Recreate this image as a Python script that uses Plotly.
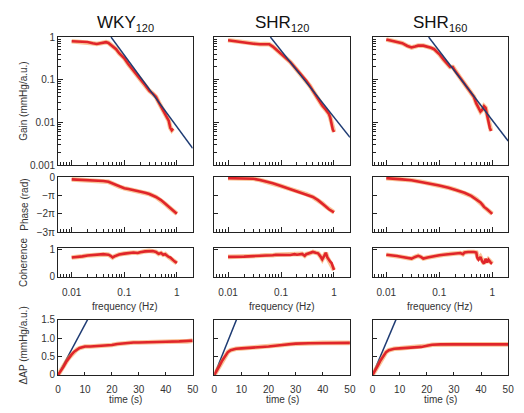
import math
import plotly.graph_objects as go

W, H = 524, 413

col_titles = ["WKY<sub><span style='font-size:11px'>120</span></sub>",
              "SHR<sub><span style='font-size:11px'>120</span></sub>",
              "SHR<sub><span style='font-size:11px'>160</span></sub>"]

# ---------------- Gain (mmHg/a.u.) vs frequency (Hz) ----------------
gain_f_wky = [0.01, 0.013, 0.016, 0.02, 0.025, 0.03, 0.035, 0.04, 0.045, 0.05, 0.055, 0.06, 0.07, 0.08,
              0.1, 0.12, 0.15, 0.2, 0.25, 0.3, 0.35, 0.4, 0.45, 0.5, 0.6, 0.7, 0.75, 0.8, 0.85]
gain_wky = [0.80, 0.79, 0.78, 0.77, 0.72, 0.69, 0.72, 0.75, 0.76, 0.73, 0.66, 0.62, 0.52, 0.42,
            0.32, 0.23, 0.16, 0.105, 0.075, 0.055, 0.047, 0.040, 0.030, 0.024, 0.016, 0.011, 0.0075, 0.0066, 0.0072]

gain_f_shr120 = [0.01, 0.015, 0.02, 0.03, 0.04, 0.05, 0.06, 0.07, 0.08, 0.1, 0.12, 0.15, 0.2, 0.25, 0.3,
                 0.35, 0.4, 0.5, 0.6, 0.7, 0.8, 0.85, 0.9, 0.95, 1.0]
gain_shr120 = [0.84, 0.78, 0.74, 0.70, 0.68, 0.69, 0.68, 0.60, 0.52, 0.42, 0.34, 0.26, 0.17, 0.125, 0.095,
               0.072, 0.055, 0.034, 0.025, 0.02, 0.016, 0.013, 0.009, 0.0068, 0.006]

gain_f_shr160 = [0.01, 0.013, 0.016, 0.02, 0.025, 0.03, 0.035, 0.04, 0.05, 0.06, 0.07, 0.08, 0.09, 0.1,
                 0.12, 0.14, 0.16, 0.18, 0.2, 0.25, 0.3, 0.35, 0.4, 0.45, 0.5, 0.55, 0.6, 0.65, 0.7,
                 0.75, 0.8, 0.85, 0.9, 0.95]
gain_shr160 = [0.88, 0.82, 0.78, 0.72, 0.62, 0.57, 0.60, 0.63, 0.63, 0.60, 0.56, 0.52, 0.46, 0.40,
               0.30, 0.24, 0.20, 0.20, 0.16, 0.11, 0.08, 0.062, 0.05, 0.04, 0.028, 0.022, 0.018, 0.02, 0.024,
               0.022, 0.015, 0.010, 0.0075, 0.0063]

# fitted power-law lines (two end points each)
fit_f_wky = [0.056, 2.0]
fit_g_wky = [1.0, 0.0025]
fit_f_shr120 = [0.063, 2.0]
fit_g_shr120 = [1.0, 0.0045]
fit_f_shr160 = [0.063, 2.0]
fit_g_shr160 = [1.0, 0.0037]

# ---------------- Phase (rad) ----------------
phase_f_wky = [0.01, 0.015, 0.02, 0.03, 0.04, 0.05, 0.06, 0.07, 0.08, 0.1, 0.12, 0.15, 0.2, 0.25, 0.3,
               0.4, 0.5, 0.6, 0.7, 0.8, 0.9, 1.0]
phase_wky = [-0.38, -0.44, -0.53, -0.63, -0.66, -0.79, -1.10, -1.41, -1.63, -1.88, -2.04, -2.20, -2.45,
             -2.67, -2.89, -3.39, -3.93, -4.56, -5.09, -5.50, -5.91, -6.28]

phase_f_shr120 = [0.01, 0.015, 0.02, 0.03, 0.04, 0.05, 0.07, 0.1, 0.15, 0.2, 0.3, 0.4, 0.5, 0.6, 0.7,
                  0.8, 0.9, 1.0]
phase_shr120 = [-0.16, -0.19, -0.22, -0.28, -0.47, -0.69, -1.04, -1.51, -2.04, -2.36, -2.89, -3.39,
                -3.93, -4.46, -5.03, -5.50, -5.81, -6.03]

phase_f_shr160 = [0.01, 0.015, 0.02, 0.03, 0.05, 0.07, 0.1, 0.15, 0.2, 0.3, 0.4, 0.5, 0.6, 0.65, 0.7,
                  0.8, 0.9, 1.0]
phase_shr160 = [-0.16, -0.25, -0.38, -0.53, -0.85, -1.10, -1.41, -1.82, -2.14, -2.67, -3.20, -3.77,
                -4.34, -4.71, -5.09, -5.50, -5.91, -6.28]

# ---------------- Coherence ----------------
coh_f_wky = [0.01, 0.013, 0.016, 0.02, 0.025, 0.03, 0.035, 0.04, 0.045, 0.05, 0.055, 0.06, 0.065, 0.07,
             0.08, 0.1, 0.12, 0.15, 0.18, 0.2, 0.25, 0.3, 0.35, 0.4, 0.45, 0.5, 0.55, 0.6, 0.65, 0.7,
             0.75, 0.8, 0.85, 0.9, 0.95, 1.0]
coh_wky = [0.70, 0.71, 0.74, 0.77, 0.79, 0.81, 0.81, 0.82, 0.81, 0.80, 0.76, 0.70, 0.74, 0.77,
           0.81, 0.84, 0.86, 0.88, 0.86, 0.89, 0.92, 0.94, 0.93, 0.90, 0.83, 0.86, 0.80, 0.82, 0.76, 0.72,
           0.70, 0.64, 0.60, 0.56, 0.53, 0.50]

coh_f_shr120 = [0.01, 0.015, 0.02, 0.03, 0.04, 0.05, 0.06, 0.07, 0.08, 0.1, 0.12, 0.15, 0.18, 0.2, 0.25,
                0.28, 0.3, 0.35, 0.4, 0.45, 0.5, 0.55, 0.6, 0.65, 0.7, 0.75, 0.8, 0.85, 0.9, 0.95, 1.0]
coh_shr120 = [0.72, 0.72, 0.73, 0.75, 0.76, 0.78, 0.76, 0.78, 0.80, 0.80, 0.81, 0.79, 0.82, 0.80, 0.83,
              0.76, 0.82, 0.85, 0.90, 0.87, 0.85, 0.75, 0.63, 0.75, 0.87, 0.70, 0.60, 0.55, 0.50, 0.38, 0.25]

coh_f_shr160 = [0.01, 0.013, 0.016, 0.02, 0.025, 0.03, 0.035, 0.04, 0.045, 0.05, 0.06, 0.07, 0.08, 0.1,
                0.12, 0.15, 0.2, 0.25, 0.28, 0.3, 0.35, 0.4, 0.45, 0.5, 0.52, 0.55, 0.6, 0.65, 0.7, 0.75,
                0.8, 0.85, 0.9, 0.95, 1.0]
coh_shr160 = [0.80, 0.78, 0.75, 0.72, 0.68, 0.66, 0.72, 0.76, 0.72, 0.66, 0.70, 0.73, 0.75, 0.78,
              0.80, 0.82, 0.83, 0.86, 0.82, 0.88, 0.90, 0.91, 0.90, 0.88, 0.70, 0.62, 0.72, 0.55, 0.48, 0.65,
              0.52, 0.62, 0.55, 0.50, 0.48]

# ---------------- Step response dAP (mmHg/a.u.) vs time (s) ----------------
t_wky = [0, 1, 2, 3, 4, 5, 6, 7, 8, 9, 10, 12, 15, 18, 20, 22, 25, 28, 30, 35, 40, 45, 48, 50]
step_wky = [0, 0.10, 0.22, 0.35, 0.46, 0.55, 0.63, 0.69, 0.73, 0.75, 0.77, 0.77, 0.78, 0.79, 0.81,
            0.84, 0.87, 0.88, 0.88, 0.90, 0.90, 0.91, 0.91, 0.93]

t_shr120 = [0, 1, 2, 3, 4, 5, 6, 7, 8, 10, 15, 20, 25, 28, 30, 35, 40, 45, 50]
step_shr120 = [0, 0.12, 0.26, 0.40, 0.53, 0.62, 0.67, 0.70, 0.71, 0.72, 0.74, 0.77, 0.81, 0.84, 0.85,
               0.86, 0.87, 0.87, 0.87]

t_shr160 = [0, 1, 2, 3, 4, 5, 6, 7, 8, 10, 15, 18, 20, 22, 25, 30, 40, 50]
step_shr160 = [0, 0.12, 0.26, 0.40, 0.53, 0.62, 0.67, 0.70, 0.71, 0.72, 0.74, 0.76, 0.79, 0.82, 0.83,
               0.83, 0.83, 0.83]

slope_t_wky = [0, 12]
slope_v_wky = [0, 1.64]
slope_t_shr120 = [0, 9]
slope_v_shr120 = [0, 1.65]
slope_t_shr160 = [0, 9.5]
slope_v_shr160 = [0, 1.65]

# ---------------- assemble ----------------
gain_sets = [(gain_f_wky, gain_wky, fit_f_wky, fit_g_wky),
             (gain_f_shr120, gain_shr120, fit_f_shr120, fit_g_shr120),
             (gain_f_shr160, gain_shr160, fit_f_shr160, fit_g_shr160)]
phase_sets = [(phase_f_wky, phase_wky), (phase_f_shr120, phase_shr120), (phase_f_shr160, phase_shr160)]
coh_sets = [(coh_f_wky, coh_wky), (coh_f_shr120, coh_shr120), (coh_f_shr160, coh_shr160)]
step_sets = [(t_wky, step_wky, slope_t_wky, slope_v_wky),
             (t_shr120, step_shr120, slope_t_shr120, slope_v_shr120),
             (t_shr160, step_shr160, slope_t_shr160, slope_v_shr160)]

RED = "#e0252a"
HALO = "rgba(245,150,70,0.55)"
BLUE = "#1e3b73"
FONT = "Liberation Sans, Arial, sans-serif"
TICKCOL = "#333333"

col_px = [(56, 193), (215, 353), (376, 514)]
row_px = [(32, 164), (176, 233), (249, 279), (323, 380)]


def xdom(c):
    return [col_px[c][0] / W, col_px[c][1] / W]


def ydom(r):
    return [1 - row_px[r][1] / H, 1 - row_px[r][0] / H]


fig = go.Figure()
layout = {}
minor_vals = [k * 10 ** e for e in (-3, -2, -1, 0) for k in range(2, 10)]

axis_common = dict(showline=True, mirror=True, linecolor="#222222", linewidth=1,
                   showgrid=False, zeroline=False, ticks="inside", tickcolor="#222222",
                   tickfont=dict(family=FONT, size=10, color=TICKCOL))


def add_line(x, y, n, color, width, halo=False):
    if halo:
        fig.add_trace(go.Scatter(x=x, y=y, mode="lines", line=dict(color=HALO, width=width + 2),
                                 xaxis="x%d" % n, yaxis="y%d" % n, showlegend=False, hoverinfo="skip"))
    fig.add_trace(go.Scatter(x=x, y=y, mode="lines", line=dict(color=color, width=width),
                             xaxis="x%d" % n, yaxis="y%d" % n, showlegend=False))


n = 0
for r in range(4):
    for c in range(3):
        n += 1
        xa = dict(axis_common, domain=xdom(c), anchor="y%d" % n)
        ya = dict(axis_common, domain=ydom(r), anchor="x%d" % n)
        if r < 3:
            xa.update(type="log", range=[math.log10(0.0055), math.log10(2.0)],
                      tickmode="array", tickvals=[0.01, 0.1, 1], ticktext=["0.01", "0.1", "1"],
                      ticklen=5, showticklabels=(r == 2), ticklabelstandoff=6,
                      minor=dict(tickmode="array", tickvals=minor_vals, ticks="inside",
                                 ticklen=3, tickcolor="#222222"))
        else:
            xa.update(range=[0, 50], tickmode="array", tickvals=[0, 10, 20, 30, 40, 50],
                      ticklen=3, showticklabels=True, ticklabelstandoff=5)
        if r == 0:
            ya.update(type="log", range=[-3, 0], tickmode="array",
                      tickvals=[0.001, 0.01, 0.1, 1], ticktext=["0.001", "0.01", "0.1", "1"],
                      ticklen=5, showticklabels=(c == 0),
                      minor=dict(tickmode="array", tickvals=minor_vals, ticks="inside",
                                 ticklen=3, tickcolor="#222222"))
            fx, fy, bx, by = gain_sets[c]
            add_line(fx, fy, n, RED, 2.6, halo=True)
            add_line(bx, by, n, BLUE, 1.5)
        elif r == 1:
            ya.update(range=[-3 * math.pi, 0.05], tickmode="array",
                      tickvals=[0, -math.pi, -2 * math.pi, -3 * math.pi],
                      ticktext=["0", "−π", "−2π", "−3π"], ticklen=4, showticklabels=(c == 0))
            fx, fy = phase_sets[c]
            add_line(fx, fy, n, RED, 2.6, halo=True)
        elif r == 2:
            ya.update(range=[0, 1.05], tickmode="array", tickvals=[0, 1], ticktext=["0", "1"],
                      ticklen=4, showticklabels=(c == 0))
            fx, fy = coh_sets[c]
            add_line(fx, fy, n, RED, 2.6, halo=True)
        else:
            ya.update(range=[0, 1.5], tickmode="array", tickvals=[0, 0.5, 1.0, 1.5],
                      ticktext=["0", "0.5", "1.0", "1.5"], ticklen=4, showticklabels=(c == 0))
            tx, ty, sx, sy = step_sets[c]
            add_line(sx, sy, n, BLUE, 1.5)
            add_line(tx, ty, n, RED, 2.6, halo=True)
        layout["xaxis%d" % n] = xa
        layout["yaxis%d" % n] = ya

annotations = []
for c in range(3):
    cx = (col_px[c][0] + col_px[c][1]) / 2 / W
    annotations.append(dict(text=col_titles[c], x=cx, y=1 - 18 / H, xref="paper", yref="paper",
                            showarrow=False, xanchor="center", yanchor="middle",
                            font=dict(family=FONT, size=17, color="#111111")))
    annotations.append(dict(text="frequency (Hz)", x=cx, y=1 - 310 / H, xref="paper", yref="paper",
                            showarrow=False, xanchor="center", yanchor="middle",
                            font=dict(family=FONT, size=10, color=TICKCOL)))
    annotations.append(dict(text="time (s)", x=cx, y=1 - 405 / H, xref="paper", yref="paper",
                            showarrow=False, xanchor="center", yanchor="middle",
                            font=dict(family=FONT, size=10, color=TICKCOL)))

ytitles = [("Gain (mmHg/a.u.)", 98), ("Phase (rad)", 205), ("Coherence", 264), ("ΔAP (mmHg/a.u.)", 350)]
for txt, py in ytitles:
    annotations.append(dict(text=txt, x=21 / W, y=1 - py / H, xref="paper", yref="paper",
                            showarrow=False, xanchor="center", yanchor="middle", textangle=-90,
                            font=dict(family=FONT, size=10, color=TICKCOL)))

fig.update_layout(**layout)
fig.update_layout(width=W, height=H, margin=dict(l=0, r=0, t=0, b=0),
                  paper_bgcolor="white", plot_bgcolor="white",
                  annotations=annotations, showlegend=False)

fig.write_html("out.html")
